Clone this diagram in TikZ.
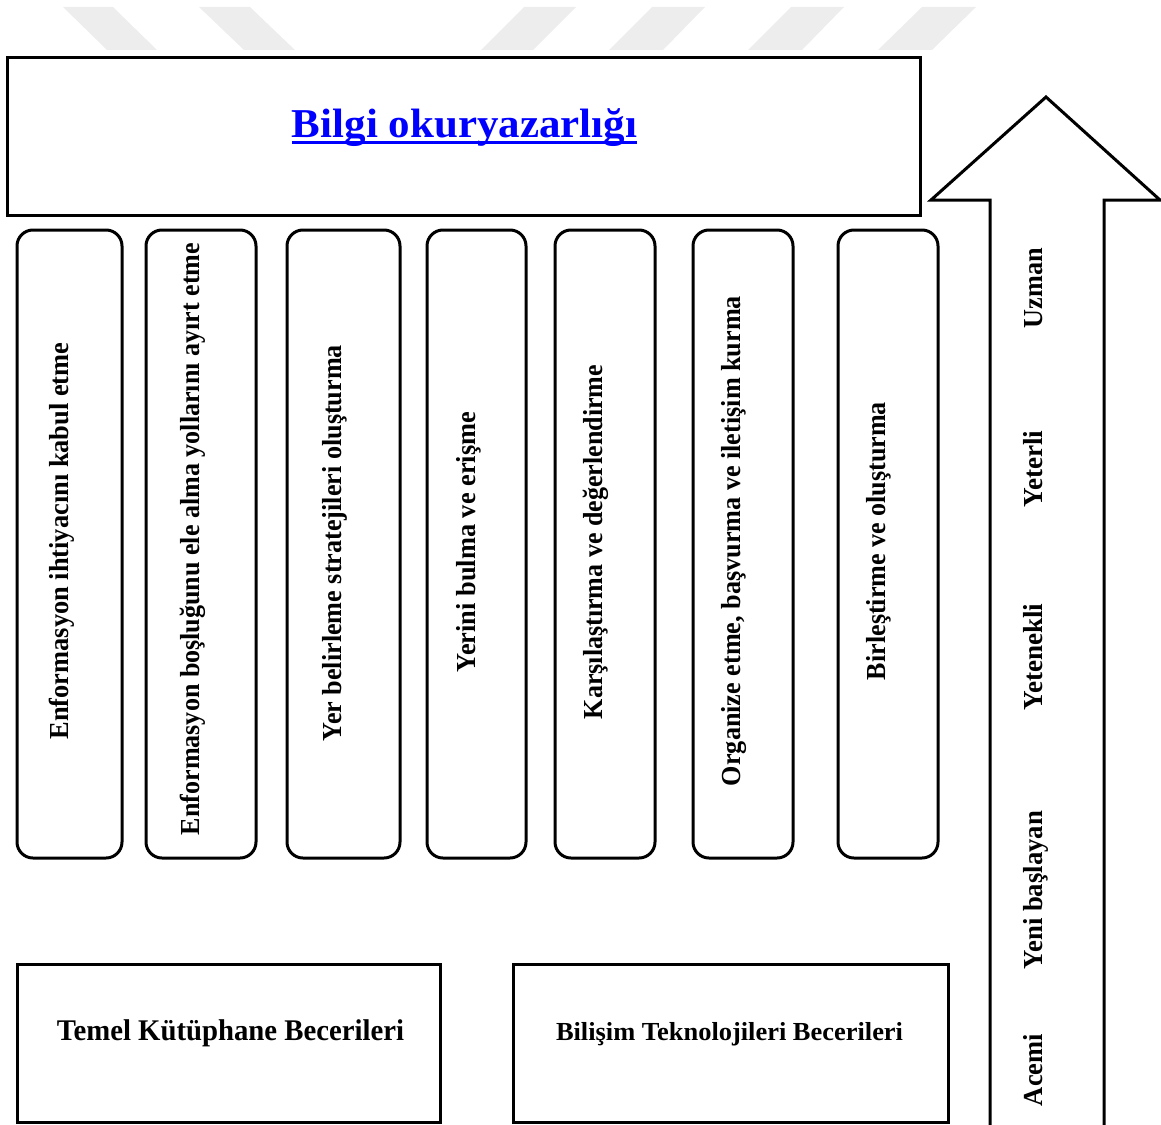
\documentclass[tikz,border=0pt]{standalone}
\usepackage{fontspec}
\setmainfont{Liberation Serif}
\usepackage{graphicx}
\newcommand{\fitw}[2]{\resizebox{#1}{\height}{#2}}
\definecolor{linkblue}{RGB}{0,0,255}
\begin{document}
\begin{tikzpicture}[x=1pt,y=-1pt,
  box/.style={draw, line width=3pt, rectangle, inner sep=0pt},
  colbox/.style={draw, line width=3pt, rounded corners=16pt, inner sep=0pt, minimum height=628pt},
  vtext/.style={rotate=90, anchor=base, inner sep=0pt, font=\fontsize{27.5}{30}\selectfont\bfseries},
  htext/.style={anchor=base, inner sep=0pt},
  wm/.style={fill=black!7, draw=none}]
\useasboundingbox (0,0) rectangle (1161,1124);
% watermark stripes
\fill[wm] (63,7) -- (113,7) -- (157,50) -- (107,50) -- cycle;
\fill[wm] (199,7) -- (250,7) -- (295,50) -- (244,50) -- cycle;
\fill[wm] (524,7) -- (576,7) -- (533,50) -- (481,50) -- cycle;
\fill[wm] (652,7) -- (705,7) -- (663,50) -- (609,50) -- cycle;
\fill[wm] (791,7) -- (844,7) -- (802,50) -- (748,50) -- cycle;
\fill[wm] (922,7) -- (976,7) -- (932,50) -- (878,50) -- cycle;
% top box
\node[box, minimum width=913pt, minimum height=157pt] (top) at (463.5,136.5) {};
\node[htext, text=linkblue, font=\fontsize{41}{46}\selectfont\bfseries] (title) at (464.5,137) {\fitw{345pt}{Bilgi okuryazarlığı}};
\draw[linkblue, line width=2.2pt] ([yshift=-5.5pt]title.base west) -- ([yshift=-5.5pt]title.base east);
% columns
\node[colbox, minimum width=105pt] (c1) at (69.5,544) {};
\node[colbox, minimum width=110pt] (c2) at (201,544) {};
\node[colbox, minimum width=113pt] (c3) at (343.5,544) {};
\node[colbox, minimum width=99pt] (c4) at (476.5,544) {};
\node[colbox, minimum width=100pt] (c5) at (605,544) {};
\node[colbox, minimum width=100pt] (c6) at (743,544) {};
\node[colbox, minimum width=100pt] (c7) at (888,544) {};
\node[vtext] (t1) at (68,541) {\fitw{397pt}{Enformasyon ihtiyacını kabul etme}};
\node[vtext] (t2) at (199,539) {\fitw{592pt}{Enformasyon boşluğunu ele alma yollarını ayırt etme}};
\node[vtext] (t3) at (341,543) {\fitw{396pt}{Yer belirleme stratejileri oluşturma}};
\node[vtext] (t4) at (475,542) {\fitw{260pt}{Yerini bulma ve erişme}};
\node[vtext] (t5) at (602,542) {\fitw{354pt}{Karşılaştırma ve değerlendirme}};
\node[vtext] (t6) at (740,541) {\fitw{490pt}{Organize etme, başvurma ve iletişim kurma}};
\node[vtext] (t7) at (885,541) {\fitw{278pt}{Birleştirme ve oluşturma}};
% arrow
\draw[line width=3pt, line join=miter] (990,1128) -- (990,200) -- (931,200) -- (1046,97) -- (1160,200) -- (1104,200) -- (1104,1128);
\node[vtext] (a1) at (1042,288) {\fitw{80pt}{Uzman}};
\node[vtext] (a2) at (1042,469) {\fitw{77pt}{Yeterli}};
\node[vtext] (a3) at (1042,657) {\fitw{107pt}{Yetenekli}};
\node[vtext] (a4) at (1042,890) {\fitw{158pt}{Yeni başlayan}};
\node[vtext] (a5) at (1042,1070) {\fitw{72pt}{Acemi}};
% bottom boxes
\node[box, minimum width=423pt, minimum height=158pt] (b1) at (228.5,1043) {};
\node[box, minimum width=435pt, minimum height=158pt] (b2) at (730.5,1043) {};
\node[htext, font=\fontsize{30}{34}\selectfont\bfseries] (bt1) at (230.5,1040) {\fitw{347pt}{Temel Kütüphane Becerileri}};
\node[htext, font=\fontsize{26}{30}\selectfont\bfseries] (bt2) at (729.5,1040) {\fitw{347pt}{Bilişim Teknolojileri Becerileri}};
\end{tikzpicture}
\end{document}
